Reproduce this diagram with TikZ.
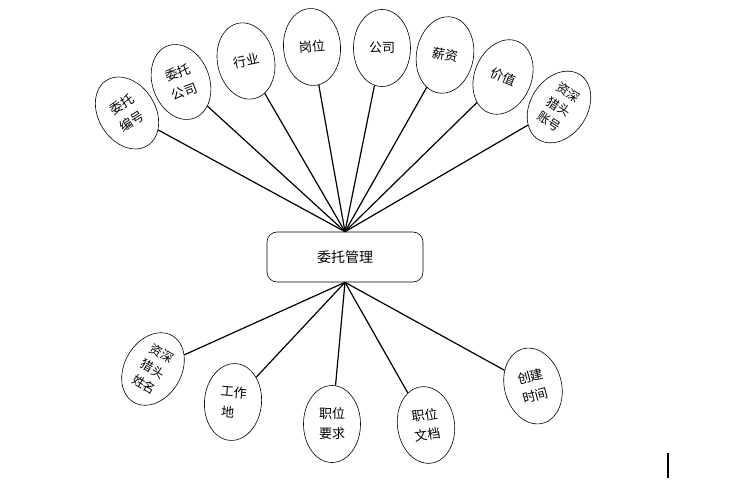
\documentclass[tikz,border=0pt]{standalone}
\usepackage{fontspec}
\setmainfont{Noto Sans CJK SC}
\usetikzlibrary{shapes.geometric}
\begin{document}
\begin{tikzpicture}[x=1pt,y=-1pt,
  attr/.style={ellipse, draw, line width=0.6pt, minimum width=57pt, minimum height=77pt, inner sep=0pt, align=center, font=\fontsize{13}{20}\selectfont},
  attrthree/.style={attr, font=\fontsize{12.5}{17.5}\selectfont},
  hubbox/.style={draw, rounded corners=10pt, line width=0.6pt, minimum width=156pt, minimum height=50pt, font=\fontsize{14}{16}\selectfont},
  link/.style={line width=1.2pt}]
\useasboundingbox (0,0) rectangle (731,484);
\node[hubbox] (hub) at (345,257) {委托管理};
\node[attr, rotate=32] (a1) at (127,113) {委托\\编号};
\node[attr, rotate=20] (a2) at (181,82) {委托\\公司};
\node[attr, rotate=12] (a3) at (246,61) {行业};
\node[attr, rotate=4] (a4) at (312,47) {岗位};
\node[attr, rotate=0] (a5) at (382,48) {公司};
\node[attr, rotate=-10] (a6) at (445,55) {薪资};
\node[attr, rotate=-22] (a7) at (503,77) {价值};
\node[attrthree, rotate=-33] (a8) at (559,107) {资深\\猎头\\账号};
\node[attrthree, rotate=-30] (b1) at (153,369) {资深\\猎头\\姓名};
\node[attr, rotate=-5, align=left] (b2) at (233,402) {工作\\\,地};
\node[attr, rotate=0] (b3) at (332,424) {职位\\要求};
\node[attr, rotate=8] (b4) at (426,425) {职位\\文档};
\node[attr, rotate=15] (b5) at (533,386) {创建\\时间};
\foreach \n in {a1,a2,a3,a4,a5,a6,a7,a8} \draw[link] (\n) -- (hub.north);
\foreach \n in {b1,b2,b3,b4,b5} \draw[link] (\n) -- (hub.south);
\coordinate (c1) at (668,453);
\coordinate (c2) at (668,478);
\draw[line width=1.6pt] (c1) -- (c2);
\end{tikzpicture}
\end{document}
